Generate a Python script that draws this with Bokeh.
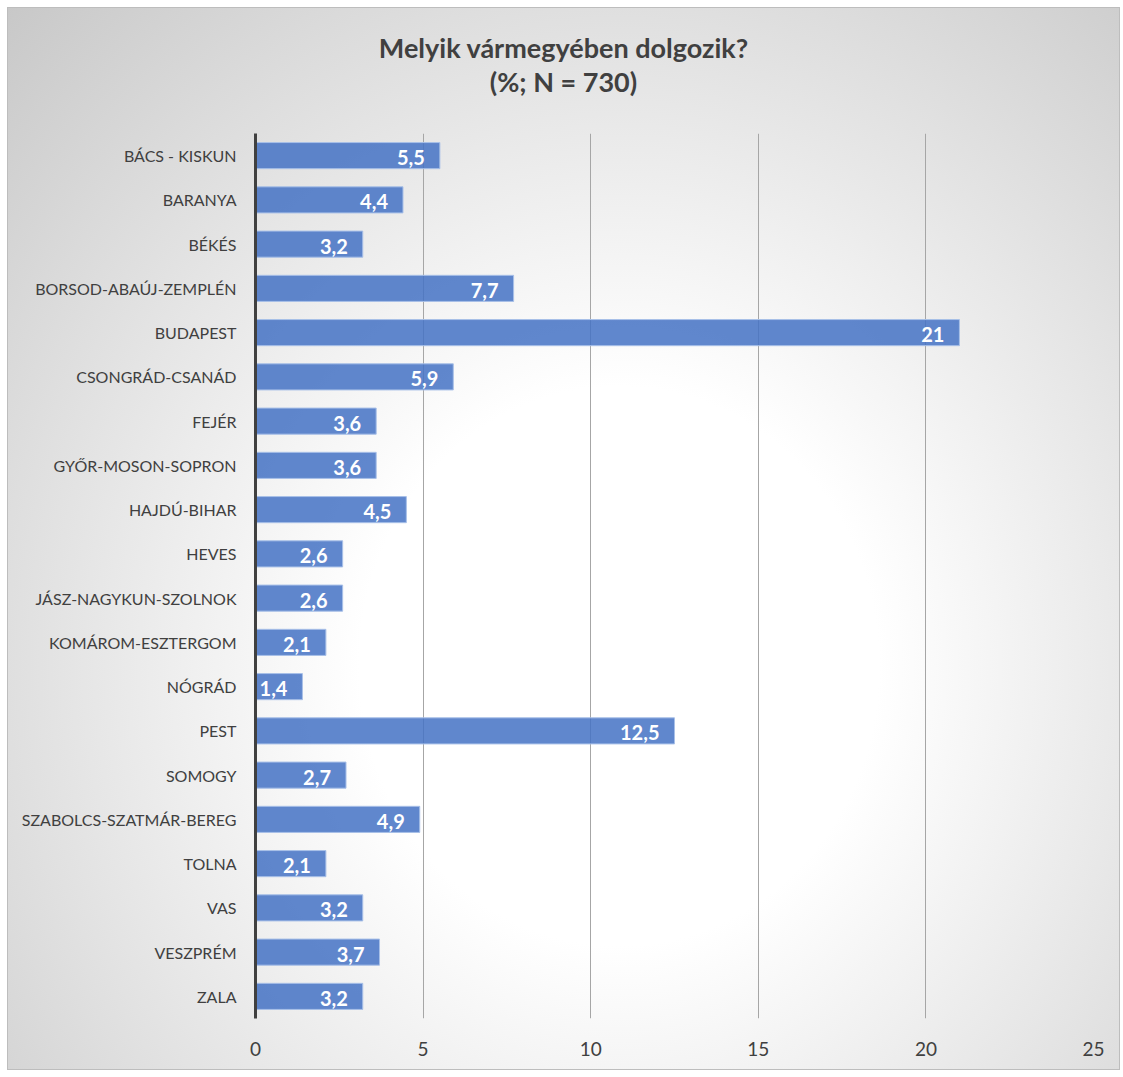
from bokeh.plotting import figure
from bokeh.models import ColumnDataSource, Div, FactorRange, FixedTicker, NumeralTickFormatter
from bokeh.layouts import column
from bokeh.core.properties import value
from bokeh.embed import file_html
from bokeh.resources import INLINE

counties = ["BÁCS - KISKUN", "BARANYA", "BÉKÉS", "BORSOD-ABAÚJ-ZEMPLÉN", "BUDAPEST",
            "CSONGRÁD-CSANÁD", "FEJÉR", "GYŐR-MOSON-SOPRON", "HAJDÚ-BIHAR", "HEVES",
            "JÁSZ-NAGYKUN-SZOLNOK", "KOMÁROM-ESZTERGOM", "NÓGRÁD", "PEST", "SOMOGY",
            "SZABOLCS-SZATMÁR-BEREG", "TOLNA", "VAS", "VESZPRÉM", "ZALA"]
percents = [5.5, 4.4, 3.2, 7.7, 21, 5.9, 3.6, 3.6, 4.5, 2.6,
            2.6, 2.1, 1.4, 12.5, 2.7, 4.9, 2.1, 3.2, 3.7, 3.2]
x_ticks = [0, 5, 10, 15, 20, 25]
title_lines = ["Melyik vármegyében dolgozik?", "(%; N = 730)"]

labels = [(f"{v:g}").replace(".", ",") for v in percents]
src = ColumnDataSource(dict(county=counties, pct=percents, lab=labels))

FONT = "Lato"

title_div = Div(text="<br>".join(title_lines), width=1113, height=110, margin=0,
                styles={"font-family": FONT, "font-weight": "bold", "font-size": "27px",
                        "color": "#404040", "text-align": "center", "line-height": "34px",
                        "padding-top": "24px", "box-sizing": "border-box"})

p = figure(width=1113, height=953, output_backend="svg", toolbar_location=None,
           y_range=FactorRange(factors=list(reversed(counties)), range_padding=0),
           x_range=(0, 25),
           min_border_left=248, min_border_right=27, min_border_top=16, min_border_bottom=52)
p.margin = 0
p.background_fill_color = None
p.border_fill_color = None
p.outline_line_color = None

p.hbar(y="county", right="pct", left=0, height=0.59, source=src,
       fill_color="#4472C4", fill_alpha=0.85, line_color="#a8c0e8", line_width=1)

p.text(x="pct", y="county", text="lab", source=src, x_offset=-15, y_offset=2,
       text_align="right", text_baseline="middle", text_color="white",
       text_font=value(FONT), text_font_size="20px", text_font_style="bold")

p.xgrid.ticker = FixedTicker(ticks=x_ticks[1:])
p.xgrid.grid_line_color = "#a6a6a6"
p.xgrid.grid_line_width = 1
p.ygrid.grid_line_color = None

p.xaxis.ticker = FixedTicker(ticks=x_ticks)
p.xaxis.formatter = NumeralTickFormatter(format="0")
p.xaxis.axis_line_color = None
p.xaxis.major_tick_line_color = None
p.xaxis.minor_tick_line_color = None
p.xaxis.major_label_standoff = 17
p.xaxis.major_label_text_font = FONT
p.xaxis.major_label_text_font_size = "19px"
p.xaxis.major_label_text_color = "#404040"

p.yaxis.axis_line_color = "#404040"
p.yaxis.axis_line_width = 3
p.yaxis.major_tick_line_color = None
p.yaxis.minor_tick_line_color = None
p.yaxis.major_label_standoff = 13
p.yaxis.major_label_text_font = FONT
p.yaxis.major_label_text_font_size = "16px"
p.yaxis.major_label_text_color = "#404040"

layout = column(title_div, p, spacing=0, margin=(7, 0, 0, 7),
                styles={"background": "radial-gradient(ellipse farthest-corner at 55% 62%, #ffffff 0%, #ffffff 30%, #c8c8c8 100%)",
                        "outline": "1px solid #bdbdbd", "outline-offset": "-1px"})

open("out.html", "w").write(file_html(layout, INLINE))
